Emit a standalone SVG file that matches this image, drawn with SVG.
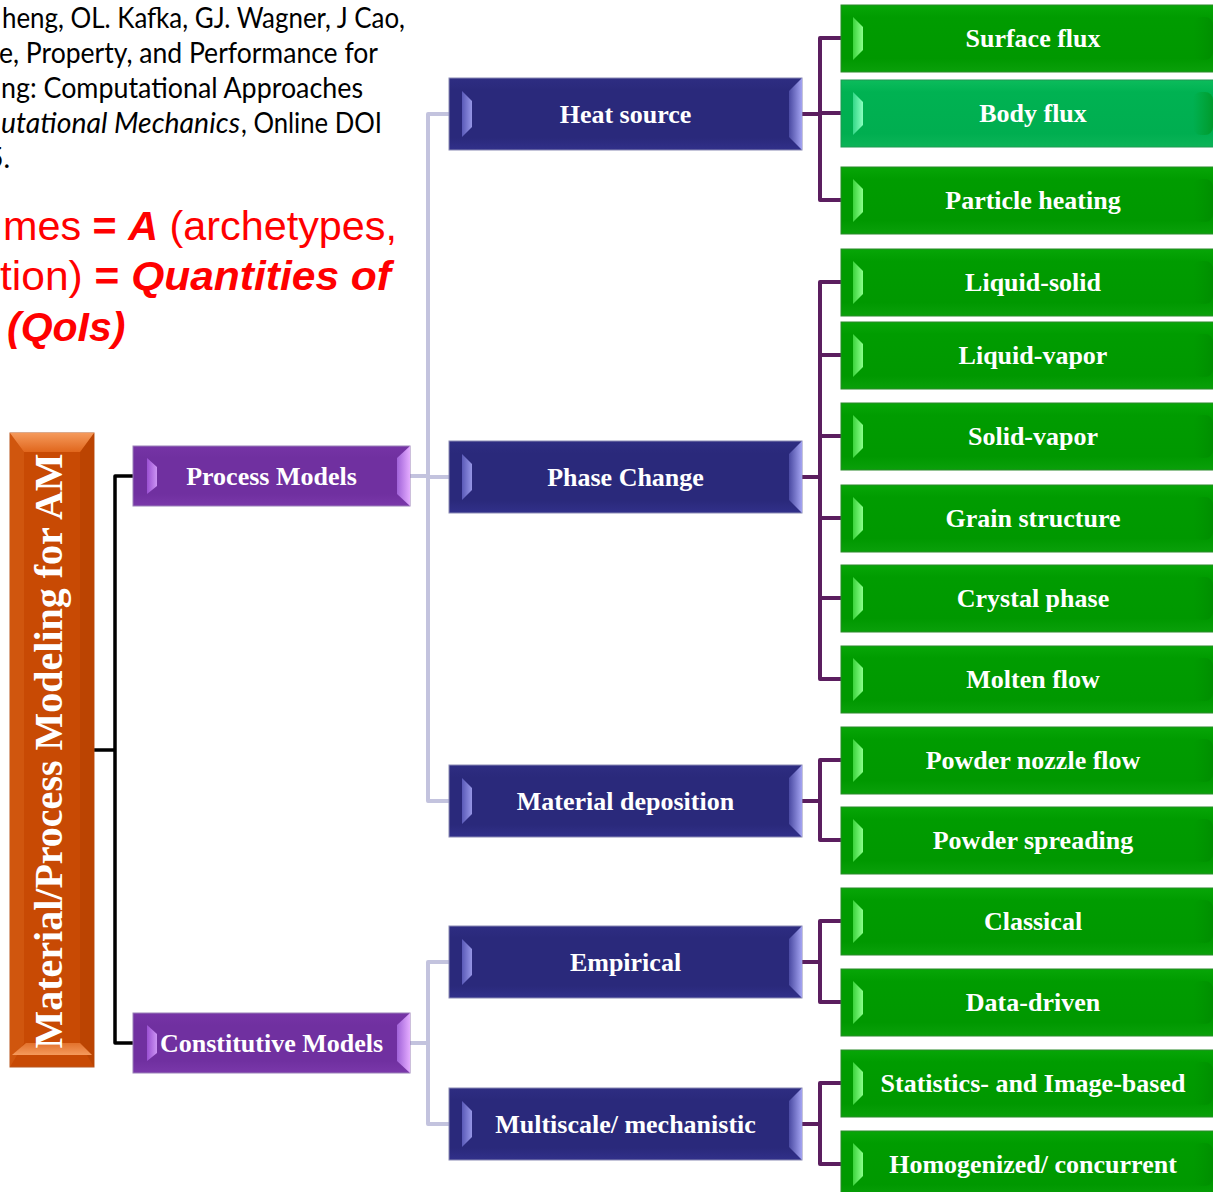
<svg xmlns="http://www.w3.org/2000/svg" xmlns:xlink="http://www.w3.org/1999/xlink" width="1213" height="1192" viewBox="0 0 1213 1192">
  <style>
    .nt { font-family: "Liberation Serif", "Times New Roman", serif; font-weight: bold; font-size: 26px; fill: #ffffff; text-anchor: middle; }
    .root { font-size: 40px; }
    .cite { font-family: Lato, "Liberation Sans", sans-serif; font-size: 28px; fill: #000000; }
    .red { font-family: "Liberation Sans", Arial, sans-serif; font-size: 41px; fill: #ff0000; }
    .bi { font-weight: bold; font-style: italic; }
    .b { font-weight: bold; }
  </style>
  <defs>
    <!-- fills and bevel facets -->
    <linearGradient id="gFill" x1="0" y1="0" x2="0" y2="1">
      <stop offset="0" stop-color="#07a607"/>
      <stop offset="0.18" stop-color="#009c00"/>
      <stop offset="0.8" stop-color="#009800"/>
      <stop offset="1" stop-color="#0aa00a"/>
    </linearGradient>
    <linearGradient id="gBodyFill" x1="0" y1="0" x2="0" y2="1">
      <stop offset="0" stop-color="#0cbc5c"/>
      <stop offset="0.18" stop-color="#00b252"/>
      <stop offset="0.8" stop-color="#00ae50"/>
      <stop offset="1" stop-color="#0cb458"/>
    </linearGradient>
    <linearGradient id="gLeft" x1="0" y1="0" x2="1" y2="0">
      <stop offset="0" stop-color="#3cd43c"/>
      <stop offset="1" stop-color="#8cff8c"/>
    </linearGradient>
    <linearGradient id="gBodyLeft" x1="0" y1="0" x2="1" y2="0">
      <stop offset="0" stop-color="#34d888"/>
      <stop offset="1" stop-color="#8affc0"/>
    </linearGradient>
    <linearGradient id="gRight" x1="0" y1="0" x2="1" y2="0">
      <stop offset="0" stop-color="#008a00" stop-opacity="0"/>
      <stop offset="1" stop-color="#008000" stop-opacity="0.45"/>
    </linearGradient>
    <linearGradient id="bFill" x1="0" y1="0" x2="0" y2="1">
      <stop offset="0" stop-color="#2e2d82"/>
      <stop offset="0.17" stop-color="#2a297b"/>
      <stop offset="0.83" stop-color="#2a297b"/>
      <stop offset="1" stop-color="#31308a"/>
    </linearGradient>
    <linearGradient id="bLeft" x1="0" y1="0" x2="1" y2="0">
      <stop offset="0" stop-color="#5a5ab8"/>
      <stop offset="1" stop-color="#9696e6"/>
    </linearGradient>
    <linearGradient id="bRight" x1="0" y1="0" x2="1" y2="0">
      <stop offset="0" stop-color="#4a4aa2"/>
      <stop offset="1" stop-color="#a4a4f2"/>
    </linearGradient>
    <linearGradient id="pFill" x1="0" y1="0" x2="0" y2="1">
      <stop offset="0" stop-color="#7634a6"/>
      <stop offset="0.2" stop-color="#7030a0"/>
      <stop offset="0.8" stop-color="#7030a0"/>
      <stop offset="1" stop-color="#7a38aa"/>
    </linearGradient>
    <linearGradient id="pLeft" x1="0" y1="0" x2="1" y2="0">
      <stop offset="0" stop-color="#9a50d2"/>
      <stop offset="1" stop-color="#cc94f4"/>
    </linearGradient>
    <linearGradient id="pRight" x1="0" y1="0" x2="1" y2="0">
      <stop offset="0" stop-color="#a062d8"/>
      <stop offset="1" stop-color="#e4acff"/>
    </linearGradient>
    <linearGradient id="oTop" x1="0" y1="0" x2="0" y2="1">
      <stop offset="0" stop-color="#f59a5c"/>
      <stop offset="1" stop-color="#e0661c"/>
    </linearGradient>
    <linearGradient id="oBottom" x1="0" y1="0" x2="0" y2="1">
      <stop offset="0" stop-color="#e2712c"/>
      <stop offset="1" stop-color="#f59a5c"/>
    </linearGradient>

    <!-- bevelled box shapes -->
    <g id="greenBox">
      <rect width="384" height="67" fill="url(#gFill)" stroke="#2a8a2a" stroke-width="1"/>
      <rect x="352" y="12" width="20" height="43" rx="8" fill="url(#gRight)"/>
      <polygon points="12,12 22,22 22,45 12,55" fill="url(#gLeft)"/>
    </g>
    <g id="bodyBox">
      <rect width="384" height="67" fill="url(#gBodyFill)" stroke="#1f9a52" stroke-width="1"/>
      <rect x="352" y="12" width="20" height="43" rx="8" fill="url(#gRight)"/>
      <polygon points="12,12 22,22 22,45 12,55" fill="url(#gBodyLeft)"/>
    </g>
    <g id="blueBox">
      <rect width="353" height="72" fill="url(#bFill)" stroke="#8a8ab4" stroke-width="1"/>
      <polygon points="13,13 23,23 23,49 13,59" fill="url(#bLeft)"/>
      <polygon points="340,13 353,0 353,72 340,59" fill="url(#bRight)"/>
    </g>
    <g id="purpleBox">
      <rect width="277" height="60" fill="url(#pFill)" stroke="#9a80b8" stroke-width="1"/>
      <polygon points="14,12 24,21 24,40 14,48" fill="url(#pLeft)"/>
      <polygon points="264,12 277,0 277,60 264,48" fill="url(#pRight)"/>
    </g>
  </defs>

  <rect width="1213" height="1192" fill="#ffffff"/>

  <!-- citation (runs off the left edge) -->
  <g id="citation">
    <text class="cite" x="2" y="28" textLength="403" lengthAdjust="spacingAndGlyphs">heng, OL. Kafka, GJ. Wagner, J Cao,</text>
    <text class="cite" x="-1" y="63" textLength="379" lengthAdjust="spacingAndGlyphs">e, Property, and Performance for</text>
    <text class="cite" x="1" y="98" textLength="362" lengthAdjust="spacingAndGlyphs">ng: Computational Approaches</text>
    <text class="cite" x="1" y="133" font-style="italic" textLength="239" lengthAdjust="spacingAndGlyphs">utational Mechanics</text>
    <text class="cite" x="241" y="133" textLength="141" lengthAdjust="spacingAndGlyphs">, Online DOI</text>
    <text class="cite" x="10" y="168" text-anchor="end">5.</text>
  </g>

  <!-- red statement -->
  <g id="statement">
    <text class="red" x="3" y="240" textLength="394" lengthAdjust="spacingAndGlyphs">mes <tspan class="b">=</tspan> <tspan class="bi">A</tspan> (archetypes,</text>
    <text class="red" x="0" y="290" textLength="391" lengthAdjust="spacingAndGlyphs">tion) <tspan class="b">=</tspan> <tspan class="bi">Quantities of</tspan></text>
    <text class="red bi" x="7" y="341">(QoIs)</text>
  </g>

  <!-- connectors -->
  <g id="connectors" fill="none" stroke-linejoin="round" stroke-linecap="butt">
    <path d="M94 750 H115 M133 476 H115 V1043 H133" stroke="#000000" stroke-width="3.5"/>
    <g stroke="#c3c3de" stroke-width="4">
      <path d="M410 476 H428 M449 114 H428 V801 H449 M428 477 H449"/>
      <path d="M410 1043 H428 M449 962 H428 V1124 H449"/>
    </g>
    <g stroke="#5b1e5f" stroke-width="4">
      <path d="M802 114 H820 M841 38 H820 V200 H841 M820 113 H841"/>
      <path d="M802 477 H820 M841 282 H820 V679 H841 M820 355 H841 M820 436 H841 M820 518 H841 M820 598 H841"/>
      <path d="M802 801 H820 M841 760 H820 V840 H841"/>
      <path d="M802 962 H820 M841 921 H820 V1002 H841"/>
      <path d="M802 1124 H820 M841 1083 H820 V1164 H841"/>
    </g>
  </g>

  <!-- root -->
  <g id="root">
    <rect x="10" y="433" width="84" height="634" fill="#c84a04" stroke="#b8561e" stroke-width="1"/>
    <polygon points="10,433 24,452 24,1043 10,1067" fill="#d0560e"/>
    <polygon points="94,433 80,452 80,1043 94,1067" fill="#bb4402"/>
    <polygon points="10,433 94,433 80,452 24,452" fill="url(#oTop)"/>
    <polygon points="26,1043 80,1043 92,1055 12,1055" fill="url(#oBottom)"/>
    <text class="nt root" transform="translate(62,751) rotate(-90)">Material/Process Modeling for AM</text>
  </g>

  <!-- level 1 -->
  <g id="process-models">
    <use xlink:href="#purpleBox" x="133" y="446"/>
    <text class="nt" x="271.5" y="485">Process Models</text>
  </g>
  <g id="constitutive-models">
    <use xlink:href="#purpleBox" x="133" y="1013"/>
    <text class="nt" x="271.5" y="1052">Constitutive Models</text>
  </g>

  <!-- level 2 -->
  <g id="heat-source">
    <use xlink:href="#blueBox" x="449" y="78"/>
    <text class="nt" x="625.5" y="123">Heat source</text>
  </g>
  <g id="phase-change">
    <use xlink:href="#blueBox" x="449" y="441"/>
    <text class="nt" x="625.5" y="486">Phase Change</text>
  </g>
  <g id="material-deposition">
    <use xlink:href="#blueBox" x="449" y="765"/>
    <text class="nt" x="625.5" y="810">Material deposition</text>
  </g>
  <g id="empirical">
    <use xlink:href="#blueBox" x="449" y="926"/>
    <text class="nt" x="625.5" y="971">Empirical</text>
  </g>
  <g id="multiscale">
    <use xlink:href="#blueBox" x="449" y="1088"/>
    <text class="nt" x="625.5" y="1133">Multiscale/ mechanistic</text>
  </g>

  <!-- level 3 -->
  <g id="surface-flux">
    <use xlink:href="#greenBox" x="841" y="5"/>
    <text class="nt" x="1033" y="47">Surface flux</text>
  </g>
  <g id="body-flux">
    <use xlink:href="#bodyBox" x="841" y="80"/>
    <text class="nt" x="1033" y="122">Body flux</text>
  </g>
  <g id="particle-heating">
    <use xlink:href="#greenBox" x="841" y="167"/>
    <text class="nt" x="1033" y="209">Particle heating</text>
  </g>
  <g id="liquid-solid">
    <use xlink:href="#greenBox" x="841" y="249"/>
    <text class="nt" x="1033" y="291">Liquid-solid</text>
  </g>
  <g id="liquid-vapor">
    <use xlink:href="#greenBox" x="841" y="322"/>
    <text class="nt" x="1033" y="364">Liquid-vapor</text>
  </g>
  <g id="solid-vapor">
    <use xlink:href="#greenBox" x="841" y="403"/>
    <text class="nt" x="1033" y="445">Solid-vapor</text>
  </g>
  <g id="grain-structure">
    <use xlink:href="#greenBox" x="841" y="485"/>
    <text class="nt" x="1033" y="527">Grain structure</text>
  </g>
  <g id="crystal-phase">
    <use xlink:href="#greenBox" x="841" y="565"/>
    <text class="nt" x="1033" y="607">Crystal phase</text>
  </g>
  <g id="molten-flow">
    <use xlink:href="#greenBox" x="841" y="646"/>
    <text class="nt" x="1033" y="688">Molten flow</text>
  </g>
  <g id="powder-nozzle-flow">
    <use xlink:href="#greenBox" x="841" y="727"/>
    <text class="nt" x="1033" y="769">Powder nozzle flow</text>
  </g>
  <g id="powder-spreading">
    <use xlink:href="#greenBox" x="841" y="807"/>
    <text class="nt" x="1033" y="849">Powder spreading</text>
  </g>
  <g id="classical">
    <use xlink:href="#greenBox" x="841" y="888"/>
    <text class="nt" x="1033" y="930">Classical</text>
  </g>
  <g id="data-driven">
    <use xlink:href="#greenBox" x="841" y="969"/>
    <text class="nt" x="1033" y="1011">Data-driven</text>
  </g>
  <g id="statistics-image">
    <use xlink:href="#greenBox" x="841" y="1050"/>
    <text class="nt" x="1033" y="1092">Statistics- and Image-based</text>
  </g>
  <g id="homogenized">
    <use xlink:href="#greenBox" x="841" y="1131"/>
    <text class="nt" x="1033" y="1173">Homogenized/ concurrent</text>
  </g>
</svg>
